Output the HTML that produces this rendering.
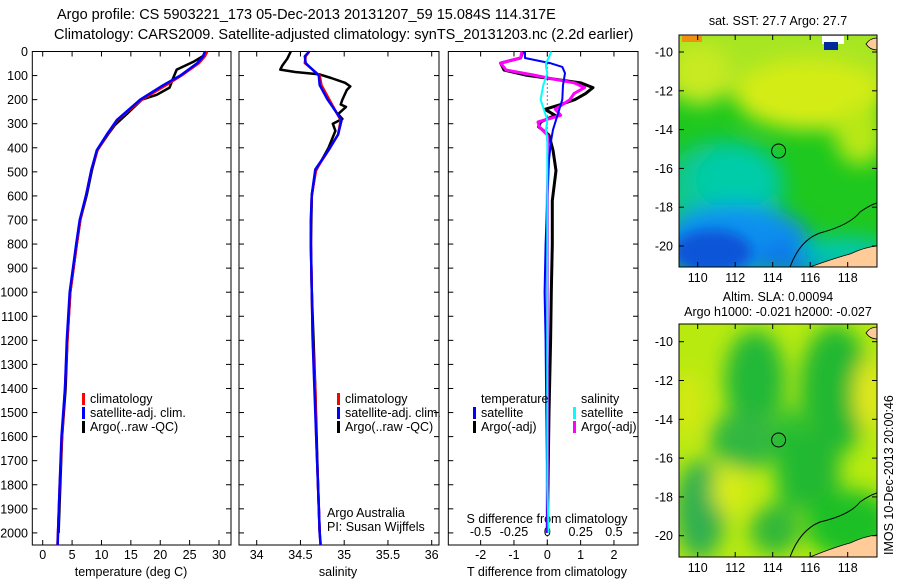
<!DOCTYPE html>
<html><head><meta charset="utf-8"><style>
body{margin:0;background:#fff}
svg{display:block;font-family:"Liberation Sans",sans-serif;font-size:12.5px}
.ttl{font-size:14.5px}
</style></head><body>
<svg id="fig" width="900" height="580" viewBox="0 0 900 580" xmlns="http://www.w3.org/2000/svg">
<defs>
<filter id="bl" filterUnits="userSpaceOnUse" x="600" y="0" width="300" height="580"><feGaussianBlur stdDeviation="10"/></filter>
<filter id="bl2" filterUnits="userSpaceOnUse" x="600" y="0" width="300" height="580"><feGaussianBlur stdDeviation="6"/></filter>
<clipPath id="c1"><rect x="679" y="35" width="198" height="232"/></clipPath>
<clipPath id="c2"><rect x="679" y="324" width="198" height="233"/></clipPath>
</defs>
<text class="ttl" x="57" y="19">Argo profile: CS 5903221_173 05-Dec-2013 20131207_59 15.084S 114.317E</text>
<text class="ttl" x="54" y="39">Climatology: CARS2009. Satellite-adjusted climatology: synTS_20131203.nc (2.2d earlier)</text>

<!-- SST map -->
<g clip-path="url(#c1)">
<rect x="679" y="35" width="198" height="232" fill="#1ec81e"/>
<g filter="url(#bl)">
<rect x="660" y="20" width="240" height="75" fill="#a8e620"/>
<ellipse cx="810" cy="95" rx="75" ry="35" fill="#d4ec18"/>
<ellipse cx="860" cy="135" rx="25" ry="30" fill="#b8e818"/>
<ellipse cx="700" cy="75" rx="30" ry="30" fill="#c8ea20"/>
<ellipse cx="725" cy="185" rx="60" ry="45" fill="#10c890"/>
<ellipse cx="735" cy="180" rx="40" ry="30" fill="#00ccaa"/>
<ellipse cx="735" cy="240" rx="75" ry="35" fill="#1090f0"/>
<ellipse cx="800" cy="258" rx="45" ry="18" fill="#1078e8"/>
<ellipse cx="845" cy="252" rx="45" ry="15" fill="#00c8b0"/>
</g>
<ellipse cx="712" cy="252" rx="40" ry="22" fill="#0a55d8" filter="url(#bl2)"/>
<rect x="822" y="36" width="22" height="8" fill="#fff"/>
<rect x="824" y="42" width="14" height="8" fill="#002a9c"/>
<rect x="682" y="36" width="20" height="6" fill="#f09010"/>
<path d="M790 267 Q800 240 820 233 Q850 225 860 212 Q870 205 877 203" fill="none" stroke="#000" stroke-width="1"/>
<path d="M810 267 Q835 258 850 254 Q865 247 877 246 L877 267 Z" fill="#ffcc99" stroke="#000" stroke-width="0.8"/>
<path d="M866 44 Q870 38 877 38 L877 50 Q870 50 866 44 Z" fill="#ffcc99" stroke="#000" stroke-width="0.8"/>
<circle cx="778.6" cy="151" r="7" fill="none" stroke="#000"/>
</g>
<rect x="679" y="35" width="198" height="232" fill="none" stroke="#000"/>
<text x="778" y="25" text-anchor="middle">sat. SST: 27.7 Argo: 27.7</text>

<!-- SLA map -->
<g clip-path="url(#c2)">
<rect x="679" y="324" width="198" height="233" fill="#b8ea10"/>
<g filter="url(#bl)">
<ellipse cx="755" cy="380" rx="30" ry="50" fill="#22b838"/>
<ellipse cx="835" cy="390" rx="35" ry="65" fill="#20b830"/>
<ellipse cx="745" cy="440" rx="35" ry="30" fill="#30b840"/>
<ellipse cx="790" cy="460" rx="15" ry="55" fill="#22bc30"/>
<ellipse cx="815" cy="470" rx="25" ry="45" fill="#20b830"/>
<ellipse cx="700" cy="510" rx="25" ry="50" fill="#30b050"/>
<ellipse cx="850" cy="525" rx="45" ry="35" fill="#1ec028"/>
<ellipse cx="775" cy="530" rx="25" ry="25" fill="#30b838"/>
<ellipse cx="868" cy="395" rx="14" ry="35" fill="#e6e81a"/>
<ellipse cx="688" cy="405" rx="12" ry="35" fill="#d8e818"/>
<ellipse cx="730" cy="490" rx="18" ry="25" fill="#d8ec14"/>
</g>
<path d="M790 557 Q800 530 820 522 Q850 515 860 502 Q870 495 877 493" fill="none" stroke="#000" stroke-width="1"/>
<path d="M810 557 Q835 547 850 543 Q865 536 877 535 L877 557 Z" fill="#ffcc99" stroke="#000" stroke-width="0.8"/>
<path d="M866 333 Q870 327 877 327 L877 339 Q870 339 866 333 Z" fill="#ffcc99" stroke="#000" stroke-width="0.8"/>
<circle cx="778.6" cy="440" r="7" fill="none" stroke="#000"/>
</g>
<rect x="679" y="324" width="198" height="233" fill="none" stroke="#000"/>
<text x="778" y="301" text-anchor="middle">Altim. SLA: 0.00094</text>
<text x="778" y="316" text-anchor="middle">Argo h1000: -0.021 h2000: -0.027</text>
<text transform="translate(893,555) rotate(-90)">IMOS 10-Dec-2013 20:00:46</text>
<g id="layer"></g>
</svg>
<script>
// ---- data ----
const depthTicks=[0,100,200,300,400,500,600,700,800,900,1000,1100,1200,1300,1400,1500,1600,1700,1800,1900,2000];
const tTicks=[0,5,10,15,20,25,30];
const sTicks=[34,34.5,35,35.5,36];
const tdTicks=[-2,-1,0,1,2];
const sdTicks=[-0.5,-0.25,0,0.25,0.5];
const sdTickLabels=["-0.5","-0.25","0","0.25","0.5"];
const lonTicks=[110,112,114,116,118];
const latTicks=[-10,-12,-14,-16,-18,-20];

const climDepth=[0,20,48,100,140,200,285,345,410,490,595,700,800,1000,1200,1400,1600,1800,2000,2050];
const climT=[28.0,27.6,26.6,23.6,21.0,16.9,12.7,11.0,9.3,8.3,7.4,6.4,5.8,4.7,4.2,3.8,3.3,2.9,2.6,2.5];
const satT=[27.6,27.3,26.3,23.4,20.5,16.6,12.6,10.9,9.2,8.3,7.4,6.3,5.7,4.6,4.1,3.8,3.2,2.9,2.6,2.55];
const argoDepth=[0,20,43,75,110,150,180,200,260,305,345,410,490,595,700,800,1000,1200,1400,1600,1800,2000];
const argoT=[27.9,27.2,25.6,22.8,22.2,21.6,19.4,16.9,14.3,12.3,11.1,9.3,8.4,7.5,6.4,5.8,4.7,4.2,3.9,3.3,3.0,2.7];

const climS=[34.60,34.56,34.55,34.72,34.74,34.83,34.96,34.93,34.82,34.68,34.63,34.62,34.62,34.63,34.64,34.67,34.68,34.70,34.72,34.73];
const satS=[34.60,34.55,34.56,34.71,34.72,34.81,34.97,34.93,34.82,34.67,34.63,34.62,34.62,34.63,34.64,34.66,34.68,34.70,34.72,34.73];
const argoSDepth=[0,30,60,75,85,95,110,130,145,160,200,220,230,260,280,300,330,400,500,600,800,1000,1400,1800,2000];
const argoS=[34.39,34.35,34.29,34.27,34.44,34.72,34.85,35.01,35.07,35.03,34.98,34.96,35.02,34.93,34.98,34.87,34.90,34.82,34.67,34.63,34.62,34.63,34.67,34.70,34.72];

const dDepth=[0,27,48,64,90,140,200,285,325,365,450,600,800,1000,1200,1500,1800,2000];
const satTd=[-0.67,-0.67,0.08,0.45,0.53,0.47,0.45,0.26,0.17,0.12,0.05,0.0,-0.05,-0.08,-0.05,-0.03,0.0,0.0];
const argoTdDepth=[0,27,48,77,98,130,150,175,200,220,240,265,293,313,347,410,495,620,800,1000,1200,1500,1800,2000];
const argoTd=[-0.73,-0.8,-1.4,-1.3,-0.65,1.0,1.37,1.15,0.83,0.4,-0.07,0.23,-0.2,-0.26,0.05,0.17,0.26,0.15,0.15,0.12,0.1,0.05,0.02,0.0];
const satSd=[0.03,0.01,-0.01,-0.01,0.0,-0.03,-0.05,0.0,-0.01,0.0,0.0,0.0,0.0,0.0,0.0,0.0,0.0,0.01];
const argoSdDepth=[0,27,48,77,98,115,130,150,175,200,240,265,293,313,347,410,600,1000,1500,2000];
const argoSd=[-0.19,-0.2,-0.35,-0.31,-0.1,0.05,0.2,0.28,0.2,0.17,0.06,0.1,-0.07,-0.06,0.0,0.01,0.0,0.0,0.0,0.0];

// ---- axes ----
const NS="http://www.w3.org/2000/svg";
const layer=document.getElementById('layer');
const yD=d=>51.5+d*0.2407;
const xT=t=>42.7+t*5.877;
const xS=s=>256.7+(s-34)*87.5;
const xTd=t=>547.3+t*33.33;
const xSd=s=>547.3+s*133.3;
const xLon=l=>697.7+(l-110)*18.75;
const yLat1=l=>52+(-10-l)*19.4;
const yLat2=l=>341.7+(-10-l)*19.4;
function mk(tag,attrs,parent){const e=document.createElementNS(NS,tag);for(const k in attrs)e.setAttribute(k,attrs[k]);(parent||layer).appendChild(e);return e;}
function txt(x,y,s,anchor){const e=mk('text',{x:x,y:y,'text-anchor':anchor||'start'});e.textContent=s;return e;}
const panels=[{l:32.3,r:231},{l:239,r:439},{l:448.3,r:638}];
const T=51.5,B=545;
panels.forEach((p,i)=>{
  const f=mk('rect',{x:p.l,y:T,width:p.r-p.l,height:B-T,fill:'none',stroke:'#000'});
  
  
  depthTicks.forEach(d=>{mk('line',{x1:p.l,x2:p.l+5,y1:yD(d),y2:yD(d),stroke:'#000'});mk('line',{x1:p.r,x2:p.r-5,y1:yD(d),y2:yD(d),stroke:'#000'});});
});
depthTicks.forEach(d=>{const e=txt(28,yD(d)+4.5,String(d),'end');});
function xaxis(vals,labels,fx,p,ylab,top){vals.forEach((v,i)=>{const x=fx(v);mk('line',{x1:x,x2:x,y1:B,y2:B-5,stroke:'#000'});if(top)mk('line',{x1:x,x2:x,y1:T,y2:T+5,stroke:'#000'});if(labels){const e=txt(x,ylab,labels[i],'middle');}});}
xaxis(tTicks,tTicks.map(String),xT,panels[0],559,true);
xaxis(sTicks,sTicks.map(String),xS,panels[1],559,true);
xaxis(tdTicks,tdTicks.map(String),xTd,panels[2],559,true);
sdTicks.forEach((v,i)=>{const e=txt(xSd(v),536,sdTickLabels[i],'middle');});
let e;
e=txt(131,576,'temperature (deg C)','middle');
e=txt(338,576,'salinity','middle');
e=txt(547,576,'T difference from climatology','middle');
e=txt(547,523,'S difference from climatology','middle');
mk('line',{x1:xTd(0),x2:xTd(0),y1:T,y2:B,stroke:'#000','stroke-dasharray':'1 3'});

function line(xs,ds,fx,color,name,w){const pts=xs.map((v,i)=>fx(v).toFixed(1)+','+yD(ds[i]).toFixed(1)).join(' ');const l=mk('polyline',{points:pts,fill:'none',stroke:color,'stroke-width':w||2.5,'stroke-linejoin':'round'});}
line(argoT,argoDepth,xT,'#000','argo-temperature-line');
line(climT,climDepth,xT,'#f00','climatology-temperature-line');
line(satT,climDepth,xT,'#00f','satellite-temperature-line');
line(argoS,argoSDepth,xS,'#000','argo-salinity-line');
line(climS,climDepth,xS,'#f00','climatology-salinity-line');
line(satS,climDepth,xS,'#00f','satellite-salinity-line');
line(argoTd,argoTdDepth,xTd,'#000','argo-t-diff-line',3);
line(argoSd,argoSdDepth,xSd,'#f0f','argo-s-diff-line',3);
line(satTd,dDepth,xTd,'#00f','satellite-t-diff-line',2);
line(satSd,dDepth,xSd,'#0ff','satellite-s-diff-line',2);

function leg(x,y,color,label){const b=mk('rect',{x:x,y:y-10,width:3,height:12,fill:color});if(label){const t=txt(x+8,y,label);}}
[[82,'climatology','#f00',403],[82,'satellite-adj. clim.','#00f',417],[82,'Argo(..raw -QC)','#000',431]].forEach(a=>leg(a[0],a[3],a[2],a[1]));
[[337,'climatology','#f00',403],[337,'satellite-adj. clim.','#00f',417],[337,'Argo(..raw -QC)','#000',431]].forEach(a=>leg(a[0],a[3],a[2],a[1]));
e=txt(481,403,'temperature');
e=txt(581,403,'salinity');
leg(473,417,'#00f','satellite');leg(473,431,'#000','Argo(-adj)');
leg(573,417,'#0ff','satellite');leg(573,431,'#f0f','Argo(-adj)');
e=txt(327,517,'Argo Australia');
e=txt(327,531,'PI: Susan Wijffels');

[[yLat1,35,267],[yLat2,324,557]].forEach((m,mi)=>{
  latTicks.forEach(v=>{const y=m[0](v);mk('line',{x1:679,x2:684,y1:y,y2:y,stroke:'#000'});mk('line',{x1:877,x2:872,y1:y,y2:y,stroke:'#000'});const t=txt(673,y+4.5,String(v),'end');});
  lonTicks.forEach(v=>{const x=xLon(v);mk('line',{x1:x,x2:x,y1:m[2],y2:m[2]-5,stroke:'#000'});mk('line',{x1:x,x2:x,y1:m[1],y2:m[1]+5,stroke:'#000'});const t=txt(x,m[2]+15,String(v),'middle');});
});
</script>
</body></html>
